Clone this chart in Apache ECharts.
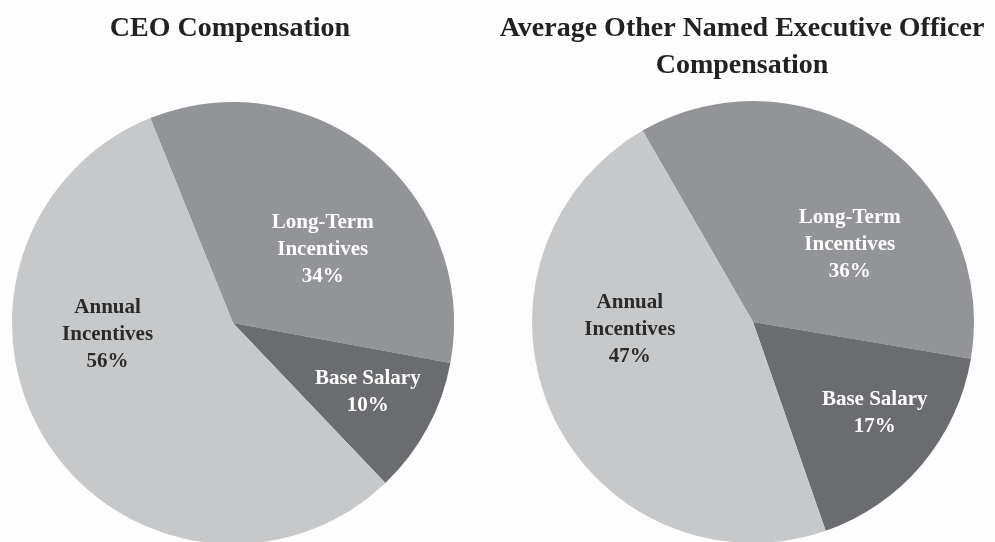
<!DOCTYPE html>
<html>
<head>
<meta charset="utf-8">
<script src="https://cdn.jsdelivr.net/npm/echarts@6/dist/echarts.min.js"></script>
<style>
  html, body { margin: 0; padding: 0; background: #fdfdfd; }
  #chart { width: 995px; height: 542px; }
</style>
</head>
<body>
<div id="chart"></div>
<script>
// 数据
const categories = ['Long-Term\nIncentives', 'Base Salary', 'Annual\nIncentives']
const ceoValues = [34, 10, 56]
const neoValues = [36, 17, 47]
const chartTitles = ['CEO Compensation', 'Average Other Named Executive Officer\nCompensation']

// 样式
const sliceColors = ['#939497', '#6b6c6f', '#c7c8ca']
const labelColors = ['#ffffff', '#ffffff', '#2a2a2a']
const serif = '"Liberation Serif", "DejaVu Serif", serif'

// 标签微调（相对于扇区内默认位置）
const ceoLabelShift = [[18, 15], [35, 15], [-30, -50]]
const neoLabelShift = [[32, 16], [35, 18], [-20, -40]]

function buildData(values) {
  return values.map((v, i) => ({
    name: categories[i],
    value: v,
    itemStyle: { color: sliceColors[i] },
    label: { color: labelColors[i] }
  }))
}

function pieSeries(values, center, startAngle, shift) {
  return {
    type: 'pie',
    center: center,
    radius: 221,
    startAngle: startAngle,
    clockwise: true,
    silent: true,
    animation: false,
    data: buildData(values),
    itemStyle: { borderWidth: 0 },
    label: {
      position: 'inside',
      formatter: p => p.name + '\n' + p.value + '%',
      fontFamily: serif,
      fontWeight: 'bold',
      fontSize: 21,
      lineHeight: 27,
      align: 'center'
    },
    labelLine: { show: false },
    labelLayout: params => ({ dx: shift[params.dataIndex][0], dy: shift[params.dataIndex][1] })
  }
}

const chart = echarts.init(document.getElementById('chart'))

chart.setOption({
  backgroundColor: '#fdfdfd',
  title: [
    {
      text: chartTitles[0],
      left: 225,
      top: 5,
      textAlign: 'center',
      textStyle: { fontFamily: serif, fontWeight: 'bold', fontSize: 28, lineHeight: 37, color: '#222' }
    },
    {
      text: chartTitles[1],
      left: 737,
      top: 5,
      textAlign: 'center',
      textStyle: { fontFamily: serif, fontWeight: 'bold', fontSize: 28, lineHeight: 37, color: '#222' }
    }
  ],
  series: [
    pieSeries(ceoValues, [233, 323], 112, ceoLabelShift),
    pieSeries(neoValues, [753, 322], 120, neoLabelShift)
  ]
})

window.addEventListener('resize', () => chart.resize())
</script>
</body>
</html>
